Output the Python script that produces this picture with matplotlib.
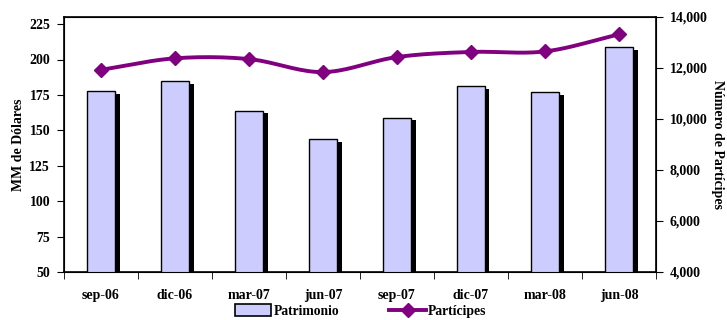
import numpy as np
import matplotlib
matplotlib.use("Agg")
from matplotlib import pyplot as plt
from matplotlib.lines import Line2D
from matplotlib.patches import Patch

plt.rcParams["font.family"] = ["Liberation Serif", "DejaVu Serif"]
plt.rcParams["font.weight"] = "bold"

periods = ["sep-06", "dic-06", "mar-07", "jun-07", "sep-07", "dic-07", "mar-08", "jun-08"]
patrimonio = [178, 185, 164, 144, 159, 181, 177, 209]
participes = [11930, 12380, 12350, 11840, 12430, 12630, 12650, 13320]

bar_color = "#CCCCFF"
line_color = "#800080"


def smooth(x, y, n=20):
    # catmull-rom style smoothing, like the excel "smoothed line"
    x = np.asarray(x, float)
    y = np.asarray(y, float)
    px = np.concatenate([[2 * x[0] - x[1]], x, [2 * x[-1] - x[-2]]])
    py = np.concatenate([[2 * y[0] - y[1]], y, [2 * y[-1] - y[-2]]])
    xs, ys = [], []
    t = np.linspace(0, 1, n)
    for i in range(1, len(px) - 2):
        for p, out in ((px, xs), (py, ys)):
            p0, p1, p2, p3 = p[i - 1], p[i], p[i + 1], p[i + 2]
            out.extend(0.5 * ((2 * p1) + (-p0 + p2) * t
                              + (2 * p0 - 5 * p1 + 4 * p2 - p3) * t ** 2
                              + (-p0 + 3 * p1 - 3 * p2 + p3) * t ** 3))
    return np.array(xs), np.array(ys)


fig = plt.figure(figsize=(7.27, 3.2), dpi=100)
ax = fig.add_axes([64 / 727, 48 / 320, 592 / 727, 255 / 320])
x = np.arange(len(periods))
width = 0.39

# shadow then bars
ax.bar(x + 0.055, np.array(patrimonio) - 2, width, bottom=0, color="black", zorder=2)
ax.bar(x, patrimonio, width, color=bar_color, edgecolor="black", linewidth=1, zorder=3)

ax.set_xlim(-0.5, len(periods) - 0.5)
ax.set_ylim(50, 230)
ax.set_yticks(np.arange(50, 226, 25))
ax.set_xticks(x)
ax.set_xticklabels(periods)
ax.set_xticks(np.arange(-0.5, len(periods)), minor=True)
ax.tick_params(axis="x", which="major", length=0, pad=12)
ax.tick_params(axis="x", which="minor", length=5, direction="out")
ax.tick_params(axis="y", length=5, direction="out", pad=5)
ax.tick_params(labelsize=10)
ax.set_ylabel("MM de Dólares", fontsize=10, fontweight="bold", labelpad=3)
for s in ax.spines.values():
    s.set_linewidth(1.2)

ax2 = ax.twinx()
sx, sy = smooth(x, participes)
ax2.plot(sx, sy, color=line_color, linewidth=2.8, zorder=4)
ax2.plot(x, participes, linestyle="none", marker="D", markersize=7,
         color=line_color, zorder=5)
ax2.set_ylim(4000, 14000)
ax2.set_yticks(np.arange(4000, 14001, 2000))
ax2.set_yticklabels([f"{v:,}" for v in range(4000, 14001, 2000)])
ax2.tick_params(axis="y", length=5, direction="out", labelsize=10, pad=5)
ax2.set_ylabel("Número de Partícipes", fontsize=10, fontweight="bold",
               rotation=270, labelpad=12)

handles = [
    Patch(facecolor=bar_color, edgecolor="black", linewidth=1.2, label="Patrimonio"),
    Line2D([0], [0], color=line_color, linewidth=2.8, marker="D", markersize=7,
           label="Partícipes"),
]
fig.legend(handles=handles, loc="center", bbox_to_anchor=(0.496, 0.028), ncol=2,
           frameon=False, fontsize=9.8, handlelength=2.7, handleheight=0.9,
           columnspacing=3.7, handletextpad=0.15)

fig.savefig("out.png", dpi=100)
